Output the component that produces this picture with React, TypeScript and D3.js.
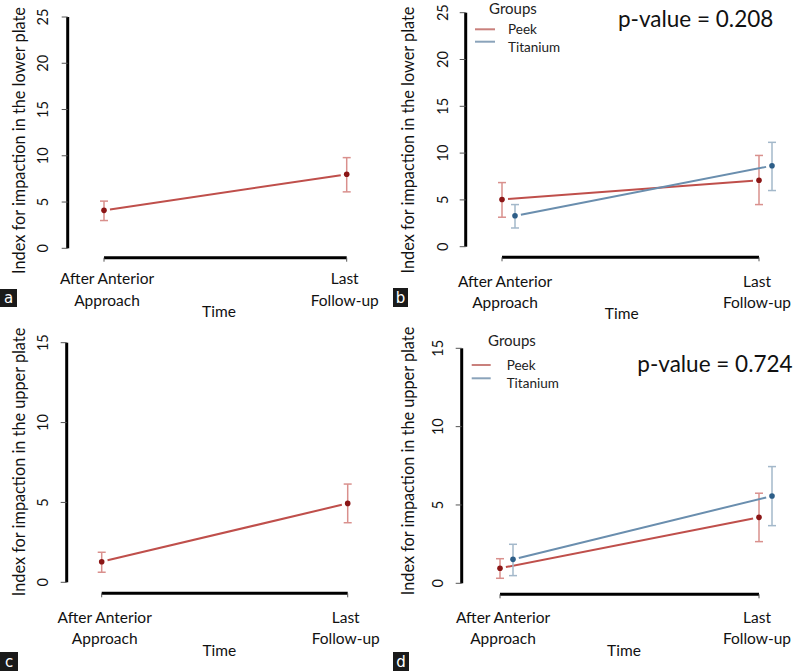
import React from "react";
import * as d3 from "d3";

// ---------- data ----------
const timePoints = ["After Anterior Approach", "Last Follow-up"];
const timeLabelLines = [["After Anterior", "Approach"], ["Last", "Follow-up"]];
const groupNames = ["Peek", "Titanium"];

const lowerTicks = [0, 5, 10, 15, 20, 25];
const upperTicks = [0, 5, 10, 15];

// (a) lower plate, all patients
const lowerAllMean = [4.1, 8.0];
const lowerAllLo = [3.0, 6.1];
const lowerAllHi = [5.1, 9.8];
// (b) lower plate by group
const lowerPeekMean = [5.05, 7.1];
const lowerPeekLo = [3.15, 4.5];
const lowerPeekHi = [6.85, 9.75];
const lowerTiMean = [3.3, 8.65];
const lowerTiLo = [2.0, 6.0];
const lowerTiHi = [4.5, 11.15];
// (c) upper plate, all patients
const upperAllMean = [1.29, 4.94];
const upperAllLo = [0.63, 3.73];
const upperAllHi = [1.88, 6.15];
// (d) upper plate by group
const upperPeekMean = [0.96, 4.21];
const upperPeekLo = [0.32, 2.66];
const upperPeekHi = [1.57, 5.75];
const upperTiMean = [1.53, 5.57];
const upperTiLo = [0.49, 3.68];
const upperTiHi = [2.49, 7.45];

const pValues = ["p-value = 0.208", "p-value = 0.724"];
const lowerTitle = "Index for impaction in the lower plate";
const upperTitle = "Index for impaction in the upper plate";

// ---------- styles ----------
const FONT = "Lato, 'Open Sans', sans-serif";
const red = { line: "#bf4f4b", point: "#8b1616", err: "#d9908d", legend: "#c9807c" };
const blue = { line: "#6a8eae", point: "#2d5e88", err: "#a3b8ca", legend: "#8aa3ba" };

type Series = { mean: number[]; lo: number[]; hi: number[]; col: typeof red; dodge: number };

type PanelCfg = {
  label: string;
  box: [number, number, number, number];
  ticks: number[];
  yAxisX: number; yTop: number; y0: number;
  xAxisY: number; x0: number; x1: number;
  tickLabX: number; titleX: number; titleY: number; title: string;
  cat1Y: number; cat2Y: number; timeX: number; timeY: number;
  series: Series[];
  legend?: { x: number; groupsY: number; lineX0: number; lineX1: number; y1: number; y2: number; t1: number; t2: number; textX: number };
  pval?: { text: string; x: number; y: number };
};

const panels: PanelCfg[] = [
  {
    label: "a", box: [0, 289, 17, 18], ticks: lowerTicks,
    yAxisX: 67.7, yTop: 17, y0: 248.3, xAxisY: 257.7, x0: 104, x1: 346.7,
    tickLabX: 48.3, titleX: 24.5, titleY: 140.5, title: lowerTitle,
    cat1Y: 284, cat2Y: 305.7, timeX: 219, timeY: 316.7,
    series: [{ mean: lowerAllMean, lo: lowerAllLo, hi: lowerAllHi, col: red, dodge: 0 }],
  },
  {
    label: "b", box: [393, 288, 15, 19], ticks: lowerTicks,
    yAxisX: 465.7, yTop: 12.7, y0: 246.7, xAxisY: 257.3, x0: 502, x1: 759,
    tickLabX: 447.7, titleX: 414.3, titleY: 140, title: lowerTitle,
    cat1Y: 286.7, cat2Y: 308.3, timeX: 621.7, timeY: 319.3,
    series: [
      { mean: lowerPeekMean, lo: lowerPeekLo, hi: lowerPeekHi, col: red, dodge: 0 },
      { mean: lowerTiMean, lo: lowerTiLo, hi: lowerTiHi, col: blue, dodge: 13 },
    ],
    legend: { x: 513, groupsY: 13.8, lineX0: 475, lineX1: 495, y1: 29.3, y2: 41.7, t1: 34.3, t2: 52, textX: 508 },
    pval: { text: pValues[0], x: 618, y: 27.3 },
  },
  {
    label: "c", box: [0, 652, 18, 19], ticks: upperTicks,
    yAxisX: 66.7, yTop: 342.7, y0: 582.3, xAxisY: 593.3, x0: 101.7, x1: 347.7,
    tickLabX: 48.3, titleX: 24.5, titleY: 462, title: upperTitle,
    cat1Y: 622.7, cat2Y: 644.3, timeX: 219.3, timeY: 655.7,
    series: [{ mean: upperAllMean, lo: upperAllLo, hi: upperAllHi, col: red, dodge: 0 }],
  },
  {
    label: "d", box: [393, 652, 16, 19], ticks: upperTicks,
    yAxisX: 461.7, yTop: 348.3, y0: 583.3, xAxisY: 594.3, x0: 500, x1: 759,
    tickLabX: 442.7, titleX: 414.3, titleY: 461, title: upperTitle,
    cat1Y: 622.7, cat2Y: 644.3, timeX: 624, timeY: 655.7,
    series: [
      { mean: upperPeekMean, lo: upperPeekLo, hi: upperPeekHi, col: red, dodge: 0 },
      { mean: upperTiMean, lo: upperTiLo, hi: upperTiHi, col: blue, dodge: 13 },
    ],
    legend: { x: 512, groupsY: 346, lineX0: 471.7, lineX1: 490.7, y1: 365, y2: 378.3, t1: 370, t2: 388.3, textX: 506.7 },
    pval: { text: pValues[1], x: 637.3, y: 371.7 },
  },
];

function Panel({ p }: { p: PanelCfg }) {
  const yMax = p.ticks[p.ticks.length - 1];
  const y = d3.scaleLinear().domain([0, yMax]).range([p.y0, p.yTop]);
  const x = d3.scalePoint<string>().domain(timePoints).range([p.x0, p.x1]);
  const gap = 6;
  return (
    <g>
      {/* y axis */}
      <line x1={p.yAxisX} x2={p.yAxisX} y1={y(0)} y2={y(yMax)} stroke="#000" strokeWidth={3} />
      {p.ticks.map((t) => (
        <g key={t}>
          <line x1={p.yAxisX - 6} x2={p.yAxisX} y1={y(t)} y2={y(t)} stroke="#555" strokeWidth={1} />
          <text
            transform={`translate(${p.tickLabX},${y(t)}) rotate(-90)`}
            textAnchor="middle" fontFamily={FONT} fontSize={14.5} fill="#111"
          >{t}</text>
        </g>
      ))}
      <text
        transform={`translate(${p.titleX},${p.titleY}) rotate(-90)`}
        textAnchor="middle" fontFamily={FONT} fontSize={16.3} fill="#111"
      >{p.title}</text>
      {/* x axis */}
      <line x1={x(timePoints[0])!} x2={x(timePoints[1])!} y1={p.xAxisY} y2={p.xAxisY} stroke="#000" strokeWidth={3} />
      {timePoints.map((tp, i) => (
        <g key={tp}>
          <line x1={x(tp)!} x2={x(tp)!} y1={p.xAxisY} y2={p.xAxisY + 4} stroke="#555" strokeWidth={1} />
          <text x={x(tp)! + (i === 0 ? 3 : -2)} y={p.cat1Y} textAnchor="middle" fontFamily={FONT} fontSize={15.5} fill="#111">{timeLabelLines[i][0]}</text>
          <text x={x(tp)! + (i === 0 ? 3 : -2)} y={p.cat2Y} textAnchor="middle" fontFamily={FONT} fontSize={15.5} fill="#111">{timeLabelLines[i][1]}</text>
        </g>
      ))}
      <text x={p.timeX} y={p.timeY} textAnchor="middle" fontFamily={FONT} fontSize={15.5} fill="#111">Time</text>
      {/* series */}
      {p.series.map((s, si) => {
        const px = timePoints.map((tp) => x(tp)! + s.dodge);
        const py = s.mean.map((m) => y(m));
        const dx = px[1] - px[0], dy = py[1] - py[0];
        const len = Math.hypot(dx, dy);
        const ux = dx / len, uy = dy / len;
        return (
          <g key={si}>
            <line x1={px[0] + ux * gap} y1={py[0] + uy * gap} x2={px[1] - ux * gap} y2={py[1] - uy * gap}
              stroke={s.col.line} strokeWidth={2} />
            {px.map((cx, i) => (
              <g key={i}>
                <line x1={cx} x2={cx} y1={y(s.lo[i])} y2={y(s.hi[i])} stroke={s.col.err} strokeWidth={1.5} />
                <line x1={cx - 4} x2={cx + 4} y1={y(s.lo[i])} y2={y(s.lo[i])} stroke={s.col.err} strokeWidth={1.5} />
                <line x1={cx - 4} x2={cx + 4} y1={y(s.hi[i])} y2={y(s.hi[i])} stroke={s.col.err} strokeWidth={1.5} />
                <circle cx={cx} cy={py[i]} r={2.8} fill={s.col.point} />
              </g>
            ))}
          </g>
        );
      })}
      {p.legend && (
        <g fontFamily={FONT} fill="#222">
          <text x={p.legend.x} y={p.legend.groupsY} textAnchor="middle" fontSize={15}>Groups</text>
          <line x1={p.legend.lineX0} x2={p.legend.lineX1} y1={p.legend.y1} y2={p.legend.y1} stroke={red.legend} strokeWidth={2} />
          <line x1={p.legend.lineX0} x2={p.legend.lineX1} y1={p.legend.y2} y2={p.legend.y2} stroke={blue.legend} strokeWidth={2} />
          <text x={p.legend.textX} y={p.legend.t1} fontSize={13.5}>{groupNames[0]}</text>
          <text x={p.legend.textX} y={p.legend.t2} fontSize={13.5}>{groupNames[1]}</text>
        </g>
      )}
      {p.pval && (
        <text x={p.pval.x} y={p.pval.y} fontFamily={FONT} fontSize={22.5} fill="#111">{p.pval.text}</text>
      )}
      {/* panel label */}
      <rect x={p.box[0]} y={p.box[1]} width={p.box[2]} height={p.box[3]} fill="#1a1a1a" />
      <text x={p.box[0] + p.box[2] / 2} y={p.box[1] + p.box[3] - 4.5} textAnchor="middle"
        fontFamily="'DejaVu Sans', sans-serif" fontSize={15} fill="#fff">{p.label}</text>
    </g>
  );
}

export default function App() {
  return (
    <svg width={797} height={671} style={{ position: "absolute", left: 0, top: 0, background: "#fff" }}>
      <rect width={797} height={671} fill="#fff" />
      {panels.map((p) => <Panel key={p.label} p={p} />)}
    </svg>
  );
}
